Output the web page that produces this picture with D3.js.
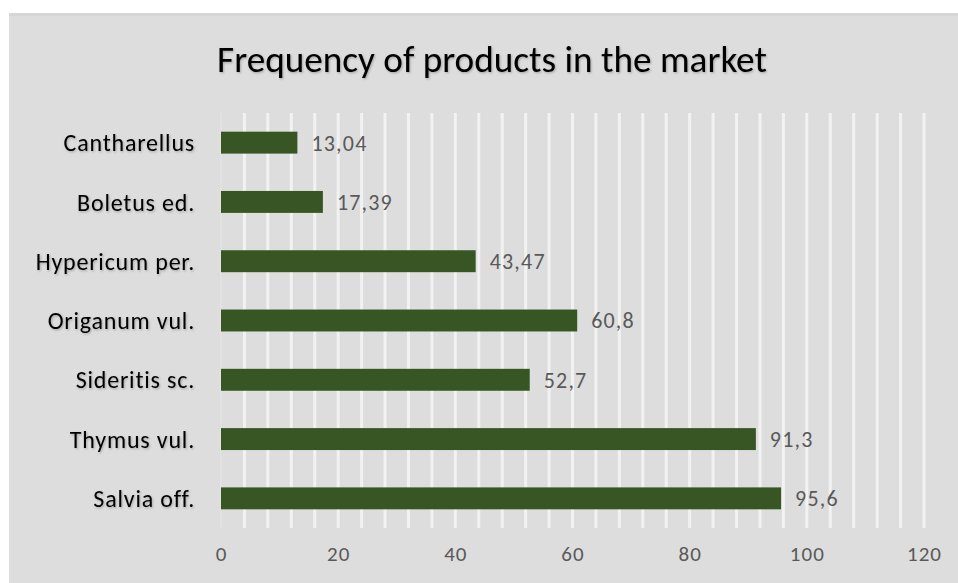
<!DOCTYPE html>
<html>
<head>
<meta charset="utf-8">
<script src="https://cdn.jsdelivr.net/npm/d3@7"></script>
<style>
  html, body { margin: 0; padding: 0; background: #fff; }
  text { font-family: Carlito, Lato, "Open Sans", sans-serif; }
</style>
</head>
<body>
<div id="chart"></div>
<script>
  // data
  const categories = ['Cantharellus', 'Boletus ed.', 'Hypericum per.', 'Origanum vul.', 'Sideritis sc.', 'Thymus vul.', 'Salvia off.'];
  const values = [13.04, 17.39, 43.47, 60.8, 52.7, 91.3, 95.6];
  const tickValues = [0, 20, 40, 60, 80, 100, 120];
  const title = 'Frequency of products in the market';

  let width = 958;
  let height = 583;
  let margin = { top: 113, right: 34, bottom: 55, left: 221 };

  let svg = d3.select('#chart')
    .append('svg')
    .attr('width', width)
    .attr('height', height);

  // soft shadow like the original text
  let filter = svg.append('defs').append('filter')
    .attr('id', 'shadow')
    .attr('x', '-10%').attr('y', '-20%')
    .attr('width', '120%').attr('height', '140%');
  filter.append('feDropShadow')
    .attr('dx', 1).attr('dy', 1.2)
    .attr('stdDeviation', 1)
    .attr('flood-color', '#000')
    .attr('flood-opacity', 0.25);

  // chart area background
  svg.append('rect')
    .attr('x', 9).attr('y', 13)
    .attr('width', width - 9).attr('height', height - 13)
    .attr('fill', '#dddddd');
  svg.append('rect')
    .attr('x', 9).attr('y', 13)
    .attr('width', width - 9).attr('height', 3)
    .attr('fill', '#d6d6d6');

  let x = d3.scaleLinear()
    .domain([0, 120])
    .range([margin.left, width - margin.right]);

  let y = d3.scaleBand()
    .domain(categories)
    .range([margin.top, height - margin.bottom])
    .paddingInner(0.63)
    .paddingOuter(0.315);

  // gridlines every 4 units
  let grid = d3.range(4, 121, 4);
  svg.append('g')
    .selectAll('line')
    .data(grid)
    .enter()
    .append('line')
    .attr('x1', d => x(d)).attr('x2', d => x(d))
    .attr('y1', margin.top).attr('y2', height - margin.bottom)
    .style('stroke', '#f2f2f2')
    .style('stroke-width', 3);

  // zero line
  svg.append('line')
    .attr('x1', x(0)).attr('x2', x(0))
    .attr('y1', margin.top).attr('y2', height - margin.bottom)
    .style('stroke', '#e6e6e6')
    .style('stroke-width', 1);

  let rows = categories.map((c, i) => ({ category: c, value: values[i] }));

  svg.append('g')
    .selectAll('rect')
    .data(rows)
    .enter()
    .append('rect')
    .attr('x', x(0))
    .attr('y', d => y(d.category))
    .attr('width', d => x(d.value) - x(0))
    .attr('height', y.bandwidth())
    .style('fill', '#375623');

  // value labels
  svg.append('g')
    .selectAll('text')
    .data(rows)
    .enter()
    .append('text')
    .attr('x', d => x(d.value) + 14)
    .attr('y', d => y(d.category) + y.bandwidth() / 2)
    .attr('dy', '.36em')
    .style('font-size', '22px')
    .style('letter-spacing', '1.2px')
    .style('fill', '#595959')
    .text(d => String(d.value).replace('.', ','));

  // category axis
  let yAxis = d3.axisLeft(y).tickSize(0).tickPadding(26);
  let yG = svg.append('g')
    .attr('transform', 'translate(' + margin.left + ',0)')
    .call(yAxis);
  yG.select('.domain').remove();
  yG.selectAll('text')
    .style('font-size', '24px')
    .style('letter-spacing', '0.8px')
    .style('fill', '#000')
    .attr('dy', '.36em')
    .attr('filter', 'url(#shadow)');

  // value axis
  let xAxis = d3.axisBottom(x).tickValues(tickValues).tickSize(0).tickPadding(18);
  let xG = svg.append('g')
    .attr('transform', 'translate(0,' + (height - margin.bottom) + ')')
    .call(xAxis);
  xG.select('.domain').remove();
  xG.selectAll('text')
    .style('font-size', '21px')
    .style('letter-spacing', '1px')
    .style('fill', '#595959');

  // title, scaled to the width it has in the original
  let t = svg.append('text')
    .attr('x', 492)
    .attr('y', 72)
    .attr('text-anchor', 'middle')
    .style('font-size', '30px')
    .style('fill', '#000')
    .attr('filter', 'url(#shadow)')
    .text(title);
  let w = t.node().getComputedTextLength();
  t.style('font-size', (30 * 550 / w) + 'px');
</script>
</body>
</html>
